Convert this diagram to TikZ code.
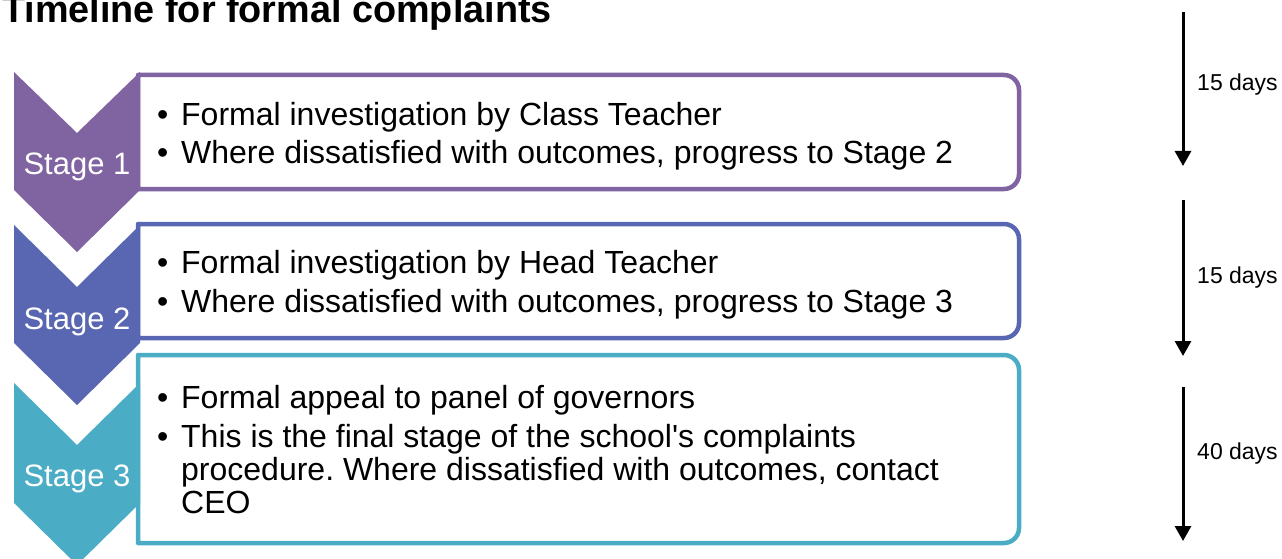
\documentclass[tikz,border=0pt]{standalone}
\usepackage{fontspec}
\setmainfont{Liberation Sans}
\usetikzlibrary{arrows.meta}
\frenchspacing
\definecolor{cpurple}{HTML}{8064A2}
\definecolor{cblue}{HTML}{5966B1}
\definecolor{caqua}{HTML}{4BACC6}
\newcommand\mybox[5]{% colour, x1, y1, x2, y2
  \draw[boxline,draw=#1] (#2,#3) -- ({#4-15},#3) .. controls ({#4-6.7},#3) and (#4,{#3+6.7}) .. (#4,{#3+15})
    -- (#4,{#5-15}) .. controls (#4,{#5-6.7}) and ({#4-6.7},#5) .. ({#4-15},#5) -- (#2,#5) -- cycle;}
\newcommand\mychev[4]{% colour, top, notch, shoulder
  \fill[#1] (14,#2) -- (77,#3) -- (140,#2) -- (140,#4) -- (77,{#4+62}) -- (14,#4) -- cycle;}
\newcommand\bul[1]{\par\hangindent=25pt\hangafter=1\noindent\makebox[25pt][l]{\hspace{1pt}•}#1}
\begin{document}
\begin{tikzpicture}[x=1pt,y=-1pt,
  boxline/.style={line width=4.5pt,fill=white,line join=round},
  stagelabel/.style={anchor=base,text=white,inner sep=0pt,font=\fontsize{31}{34}\selectfont},
  bodytext/.style={anchor=base west,inner sep=0pt,font=\fontsize{32}{33}\selectfont},
  daylabel/.style={anchor=base west,inner sep=0pt,font=\fontsize{23}{26}\selectfont},
  timearrow/.style={line width=3pt,-{Triangle[width=16pt,length=15pt]}},
  titletext/.style={anchor=base west,inner sep=0pt,font=\bfseries\fontsize{37.8}{40}\selectfont}]
\useasboundingbox (0,0) rectangle (1282,559);
\node[titletext] (title) at (2,23) {Timeline for formal complaints};
% boxes
\mybox{cpurple}{138}{75}{1019}{189}
\mybox{cblue}{138}{224}{1019}{338}
\mybox{caqua}{138}{355}{1019}{543}
% chevrons
\mychev{cpurple}{72}{133}{190}
\mychev{cblue}{225}{287}{343}
\mychev{caqua}{383}{445}{503}
\node[stagelabel] (s1) at (77,175) {Stage 1};
\node[stagelabel] (s2) at (77,329) {Stage 2};
\node[stagelabel] (s3) at (77,486) {Stage 3};
% texts
\node[bodytext] (t1) at (156,125) {\begin{minipage}[t]{850pt}\raggedright\parskip=6pt
\bul{Formal investigation by Class Teacher}
\bul{Where dissatisfied with outcomes, progress to Stage 2}\end{minipage}};
\node[bodytext] (t2) at (156,273) {\begin{minipage}[t]{850pt}\raggedright\parskip=6pt
\bul{Formal investigation by Head Teacher}
\bul{Where dissatisfied with outcomes, progress to Stage 3}\end{minipage}};
\node[bodytext] (t3) at (156,408) {\begin{minipage}[t]{850pt}\raggedright\parskip=6pt
\bul{Formal appeal to panel of governors}
\bul{This is the final stage of the school\textquotesingle s complaints\newline procedure. Where dissatisfied with outcomes, contact\newline CEO}\end{minipage}};
% time arrows
\coordinate (a1s) at (1183,12);  \coordinate (a1e) at (1183,166);
\coordinate (a2s) at (1183,200); \coordinate (a2e) at (1183,356);
\coordinate (a3s) at (1183,387); \coordinate (a3e) at (1183,541);
\draw[timearrow] (a1s) -- (a1e);
\draw[timearrow] (a2s) -- (a2e);
\draw[timearrow] (a3s) -- (a3e);
\node[daylabel] (d1) at (1197,91) {15 days};
\node[daylabel] (d2) at (1197,283) {15 days};
\node[daylabel] (d3) at (1197,459) {40 days};
\end{tikzpicture}
\end{document}
